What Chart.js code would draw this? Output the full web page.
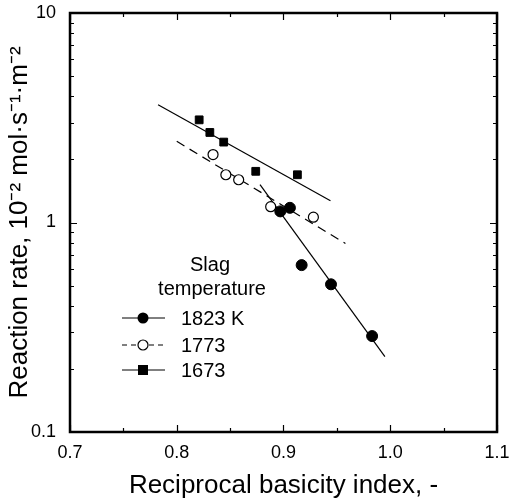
<!DOCTYPE html>
<html>
<head>
<meta charset="utf-8">
<script src="https://cdn.jsdelivr.net/npm/chart.js@4"></script>
<style>
html,body{margin:0;padding:0;background:#fff;}
#wrap{width:511px;height:504px;position:relative;}
</style>
</head>
<body>
<div id="wrap"><canvas id="c" width="511" height="504"></canvas></div>
<script>
// Tick labels
const xTickValues = [0.7, 0.8, 0.9, 1.0, 1.1];
const yTickValues = [0.1, 1, 10];

// Series: data points
const x1823 = [0.897, 0.906, 0.917, 0.9445, 0.983];
const y1823 = [1.13, 1.175, 0.626, 0.507, 0.287];
const x1773 = [0.834, 0.846, 0.858, 0.888, 0.928];
const y1773 = [2.11, 1.69, 1.60, 1.19, 1.06];
const x1673 = [0.821, 0.831, 0.844, 0.874, 0.913];
const y1673 = [3.09, 2.69, 2.42, 1.755, 1.69];

// Fitted lines (end points)
const fitX1823 = [0.878, 0.995];
const fitY1823 = [1.517, 0.229];
const fitX1773 = [0.800, 0.958];
const fitY1773 = [2.44, 0.794];
const fitX1673 = [0.7825, 0.944];
const fitY1673 = [3.65, 1.27];

const legendLabels = ['1823 K', '1773', '1673'];
const legendTitle = ['Slag', 'temperature'];

const pts = (xs, ys) => xs.map((x, i) => ({x: x, y: ys[i]}));
const FONT = "'Liberation Sans', Arial, sans-serif";

const frameTicks = {
  id: 'frameTicks',
  afterDraw(chart) {
    const ctx = chart.ctx, a = chart.chartArea;
    const xs = chart.scales.x, ys = chart.scales.y;
    ctx.save();
    ctx.strokeStyle = '#000';
    ctx.lineWidth = 1.2;
    ctx.beginPath();
    // x ticks every 0.05
    for (let k = 0; k <= 8; k++) {
      const v = 0.7 + k * 0.05;
      const px = Math.round(xs.getPixelForValue(v)) + 0.5;
      const len = (k % 2 === 0) ? 7 : 4;
      ctx.moveTo(px, a.bottom); ctx.lineTo(px, a.bottom - len);
      ctx.moveTo(px, a.top); ctx.lineTo(px, a.top + len);
    }
    // y ticks log
    for (let d = -1; d <= 0; d++) {
      for (let m = 1; m <= 9; m++) {
        const v = m * Math.pow(10, d);
        const py = Math.round(ys.getPixelForValue(v)) + 0.5;
        const len = (m === 1) ? 7 : 4;
        ctx.moveTo(a.left, py); ctx.lineTo(a.left + len, py);
        ctx.moveTo(a.right, py); ctx.lineTo(a.right - len, py);
      }
    }
    ctx.stroke();
    ctx.lineWidth = 2.5;
    ctx.strokeRect(a.left, a.top, a.right - a.left, a.bottom - a.top);

    // legend
    ctx.fillStyle = '#000';
    ctx.font = '20px ' + FONT;
    ctx.textAlign = 'center';
    ctx.textBaseline = 'middle';
    ctx.fillText(legendTitle[0], 210, 265);
    ctx.fillText(legendTitle[1], 212, 289);
    const rows = [318, 345, 370];
    ctx.textAlign = 'left';
    rows.forEach((ry, i) => {
      ctx.lineWidth = 1;
      ctx.setLineDash(i === 1 ? [5, 4] : []);
      ctx.beginPath();
      ctx.moveTo(122, ry); ctx.lineTo(165, ry);
      ctx.stroke();
      ctx.setLineDash([]);
      ctx.lineWidth = 1.2;
      if (i === 0) {
        ctx.beginPath(); ctx.arc(143, ry, 5.5, 0, Math.PI * 2); ctx.fill();
      } else if (i === 1) {
        ctx.beginPath(); ctx.arc(143, ry, 5, 0, Math.PI * 2);
        ctx.fillStyle = '#fff'; ctx.fill(); ctx.fillStyle = '#000'; ctx.stroke();
      } else {
        ctx.fillRect(138, ry - 5, 10, 10);
      }
      ctx.fillText(legendLabels[i], 181, ry + 1);
    });
    ctx.restore();
  }
};

const lineDs = (xs, ys, dash) => ({
  type: 'line', data: pts(xs, ys), borderColor: '#000', borderWidth: 1.2,
  borderDash: dash, pointRadius: 0, fill: false, showLine: true, order: 2
});

new Chart(document.getElementById('c'), {
  type: 'scatter',
  data: {
    datasets: [
      lineDs(fitX1823, fitY1823, []),
      lineDs(fitX1773, fitY1773, [9, 6]),
      lineDs(fitX1673, fitY1673, []),
      {label: '1823 K', data: pts(x1823, y1823), pointStyle: 'circle', pointRadius: 5.5,
       backgroundColor: '#000', borderColor: '#000', borderWidth: 1, order: 1},
      {label: '1773', data: pts(x1773, y1773), pointStyle: 'circle', pointRadius: 5,
       backgroundColor: '#fff', borderColor: '#000', borderWidth: 1.2, order: 1},
      {label: '1673', data: pts(x1673, y1673), pointStyle: 'rect', pointRadius: 5.5,
       backgroundColor: '#000', borderColor: '#000', borderWidth: 1, order: 1}
    ]
  },
  options: {
    responsive: false,
    animation: false,
    events: [],
    layout: {padding: {left: 0, right: 14, top: 13, bottom: 0}},
    plugins: {legend: {display: false}, tooltip: {enabled: false}},
    scales: {
      x: {
        type: 'linear', min: 0.7, max: 1.1,
        afterBuildTicks: s => { s.ticks = xTickValues.map(v => ({value: v})); },
        afterFit: s => { s.height = 72; s.paddingLeft = 0; s.paddingRight = 0; },
        grid: {display: false, drawTicks: false},
        border: {display: false},
        ticks: {color: '#000', font: {family: FONT, size: 18}, padding: 10,
                callback: v => Number(v).toFixed(1), maxRotation: 0},
        title: {display: true, text: 'Reciprocal basicity index, -', color: '#000',
                font: {family: FONT, size: 26}, padding: {top: 0, bottom: 3}}
      },
      y: {
        type: 'logarithmic', min: 0.1, max: 10,
        afterBuildTicks: s => { s.ticks = yTickValues.map(v => ({value: v})); },
        afterFit: s => { s.width = 70; s.paddingTop = 0; s.paddingBottom = 0; },
        grid: {display: false, drawTicks: false},
        border: {display: false},
        ticks: {color: '#000', font: {family: FONT, size: 18}, padding: 14,
                callback: v => String(v)},
        title: {display: true, text: 'Reaction rate, 10⁻² mol·s⁻¹·m⁻²', color: '#000',
                font: {family: FONT, size: 26}, padding: {top: 4, bottom: 0}}
      }
    }
  },
  plugins: [frameTicks]
});
</script>
</body>
</html>
